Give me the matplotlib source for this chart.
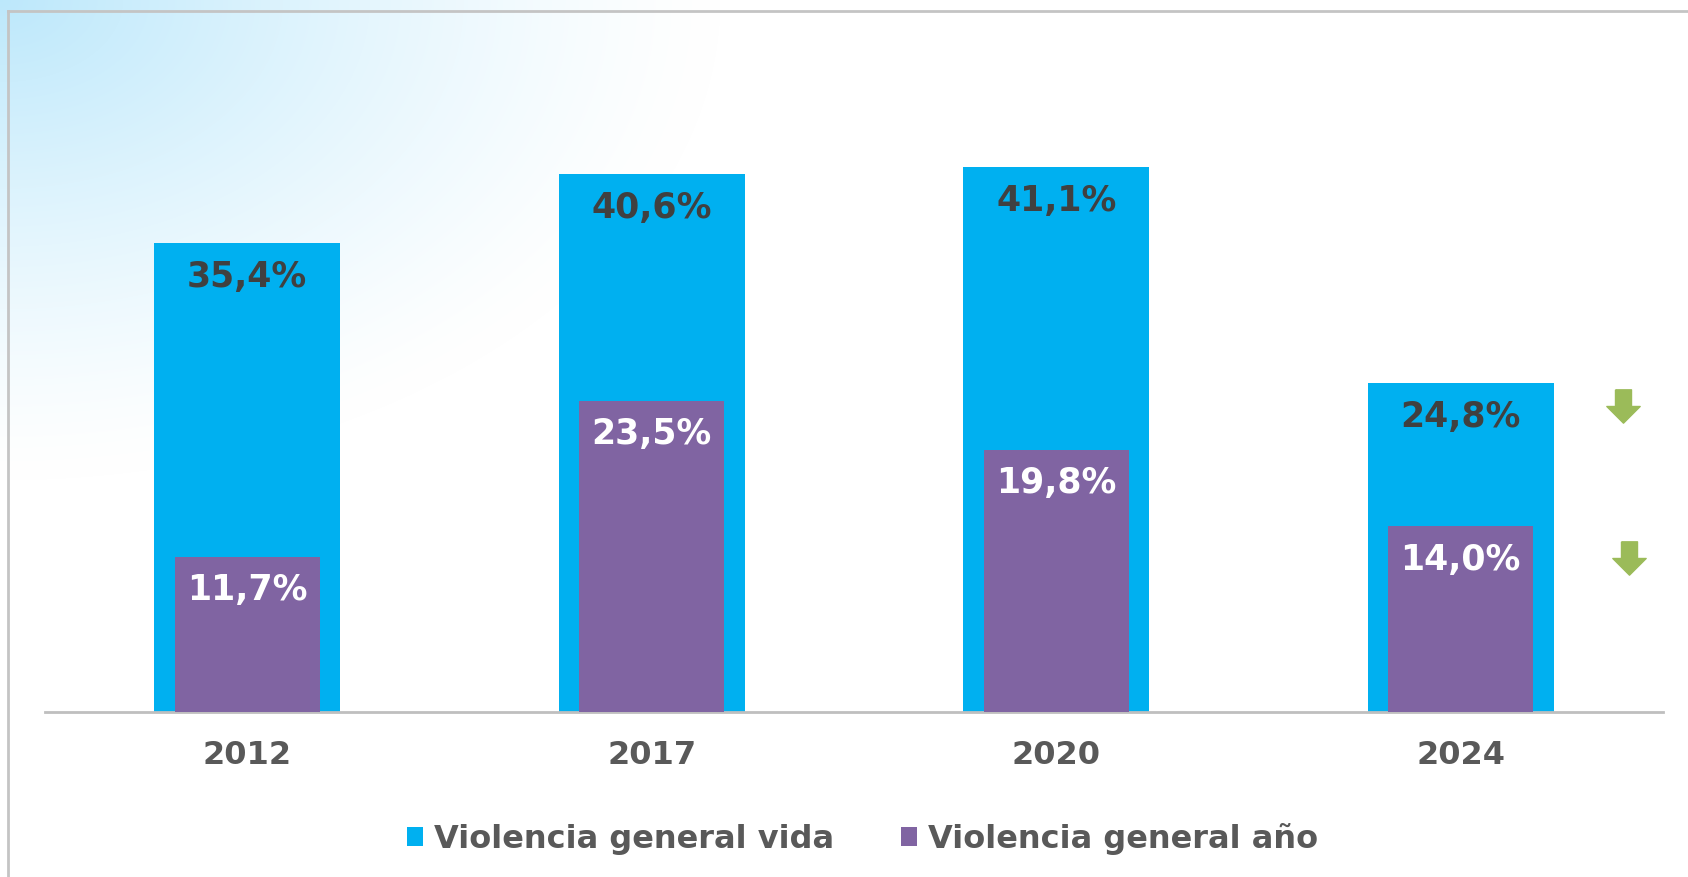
import matplotlib
import numpy as np

matplotlib.use("Agg")
import matplotlib.pyplot as plt
from matplotlib.lines import Line2D
from matplotlib.path import Path

years = ["2012", "2017", "2020", "2024"]
vida = [35.4, 40.6, 41.1, 24.8]
anio = [11.7, 23.5, 19.8, 14.0]
series_names = ["Violencia general vida", "Violencia general año"]

BLUE = "#00B0F0"
PURPLE = "#8064A2"
GREEN = "#9BBB59"
DARK = "#404040"
GRAY_TXT = "#595959"

plt.rcParams["font.family"] = ["DejaVu Sans"]
plt.rcParams["font.weight"] = "bold"

fig = plt.figure(figsize=(16.88, 8.77), dpi=100)

# soft blue glow in the upper-left corner
bg = fig.add_axes([0, 0, 1, 1], zorder=-10)
h, w = 877, 1688
yy, xx = np.mgrid[0:h, 0:w]
r = np.sqrt((xx / 720.0) ** 2 + (yy / 480.0) ** 2)
alpha = np.clip(1 - r, 0, 1) ** 1.3
glow = np.array([0.74, 0.91, 0.985])
img = np.ones((h, w, 3)) * (1 - alpha[..., None]) + glow * alpha[..., None]
bg.imshow(img, aspect="auto", extent=[0, 1, 0, 1], origin="upper")
bg.set_axis_off()

# partial frame (top and left edges visible)
fig.add_artist(Line2D([8 / w, 1.0], [1 - 11 / h, 1 - 11 / h], color="#C4C4C4", lw=2))
fig.add_artist(Line2D([8 / w, 8 / w], [0, 1 - 11 / h], color="#C4C4C4", lw=2))

ax = fig.add_axes([45 / w, 165 / h, 1618 / w, 701 / h])
ax.patch.set_alpha(0)
x = np.arange(len(years))

b1 = ax.bar(x, vida, width=0.46, color=BLUE, label=series_names[0], zorder=2)
b2 = ax.bar(x, anio, width=0.358, color=PURPLE, label=series_names[1], zorder=3)

for xi, v in zip(x, vida):
    ax.annotate(f"{v:.1f}%".replace(".", ","), (xi, v), xytext=(0, -24.5),
                textcoords="offset points", ha="center", va="center",
                fontsize=25, fontweight="bold", color=DARK, zorder=4)
for xi, v in zip(x, anio):
    ax.annotate(f"{v:.1f}%".replace(".", ","), (xi, v), xytext=(0, -24),
                textcoords="offset points", ha="center", va="center",
                fontsize=25, fontweight="bold", color="white", zorder=4)

# green "down" arrows next to 2024
arrow = Path([(-0.24, 0.5), (0.24, 0.5), (0.24, 0.0), (0.5, 0.0),
              (0.0, -0.5), (-0.5, 0.0), (-0.24, 0.0), (-0.24, 0.5)])
ax.plot([3.40], [23.1], marker=arrow, markersize=24, color=GREEN, ls="none", zorder=5)
ax.plot([3.415], [11.6], marker=arrow, markersize=24, color=GREEN, ls="none", zorder=5)

ax.set_xlim(-0.5, 3.5)
ax.set_ylim(0, 52.9)
ax.set_xticks(x)
ax.set_xticklabels(years, fontsize=23, fontweight="bold", color=GRAY_TXT)
ax.tick_params(axis="x", length=0, pad=20)
ax.set_yticks([])
for s in ["top", "right", "left"]:
    ax.spines[s].set_visible(False)
ax.spines["bottom"].set_color("#BFBFBF")
ax.spines["bottom"].set_linewidth(2)

leg = fig.legend(handles=[b1, b2], labels=series_names, loc="center",
                 bbox_to_anchor=(0.511, 38 / h), ncol=2, frameon=False,
                 handlelength=0.5, handleheight=0.55, handletextpad=0.35,
                 columnspacing=2.1, prop={"size": 23, "weight": "bold"})
for t in leg.get_texts():
    t.set_color(GRAY_TXT)

fig.savefig("out.png", dpi=100)
